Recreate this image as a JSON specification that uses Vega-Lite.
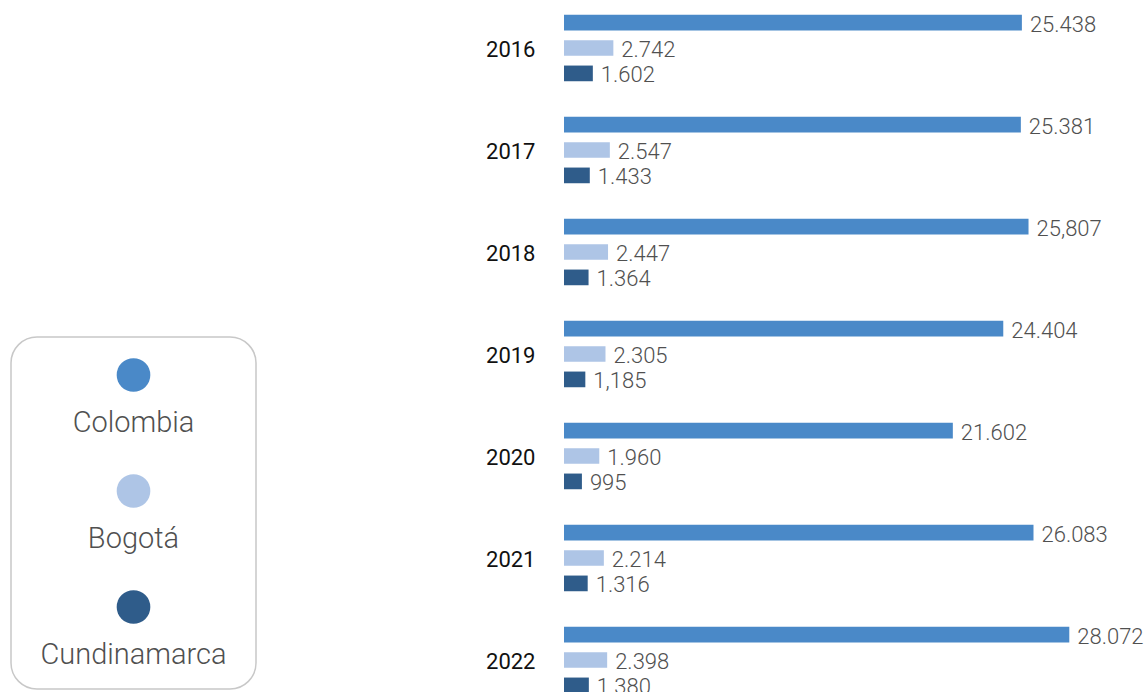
{
  "$schema": "https://vega.github.io/schema/vega-lite/v6.json",
  "padding": {"left": 10, "top": 0, "right": 0, "bottom": 0},
  "autosize": {"type": "pad"},
  "background": "white",
  "config": {"view": {"stroke": null}, "font": "Roboto"},
  "bounds": "flush",
  "spacing": 553,
  "resolve": {"scale": {"x": "independent", "y": "independent"}},
  "datasets": {
    "bars": [
      {"year": "2016", "series": "Colombia", "value": 25438, "label": "25.438"},
      {"year": "2016", "series": "Bogotá", "value": 2742, "label": "2.742"},
      {"year": "2016", "series": "Cundinamarca", "value": 1602, "label": "1.602"},
      {"year": "2017", "series": "Colombia", "value": 25381, "label": "25.381"},
      {"year": "2017", "series": "Bogotá", "value": 2547, "label": "2.547"},
      {"year": "2017", "series": "Cundinamarca", "value": 1433, "label": "1.433"},
      {"year": "2018", "series": "Colombia", "value": 25807, "label": "25,807"},
      {"year": "2018", "series": "Bogotá", "value": 2447, "label": "2.447"},
      {"year": "2018", "series": "Cundinamarca", "value": 1364, "label": "1.364"},
      {"year": "2019", "series": "Colombia", "value": 24404, "label": "24.404"},
      {"year": "2019", "series": "Bogotá", "value": 2305, "label": "2.305"},
      {"year": "2019", "series": "Cundinamarca", "value": 1185, "label": "1,185"},
      {"year": "2020", "series": "Colombia", "value": 21602, "label": "21.602"},
      {"year": "2020", "series": "Bogotá", "value": 1960, "label": "1.960"},
      {"year": "2020", "series": "Cundinamarca", "value": 995, "label": "995"},
      {"year": "2021", "series": "Colombia", "value": 26083, "label": "26.083"},
      {"year": "2021", "series": "Bogotá", "value": 2214, "label": "2.214"},
      {"year": "2021", "series": "Cundinamarca", "value": 1316, "label": "1.316"},
      {"year": "2022", "series": "Colombia", "value": 28072, "label": "28.072"},
      {"year": "2022", "series": "Bogotá", "value": 2398, "label": "2.398"},
      {"year": "2022", "series": "Cundinamarca", "value": 1380, "label": "1.380"}
    ],
    "series": [
      {"series": "Colombia"},
      {"series": "Bogotá"},
      {"series": "Cundinamarca"}
    ]
  },
  "hconcat": [
    {
      "vconcat": [
        {
          "width": 245,
          "height": 337,
          "data": {"name": "series"},
          "mark": {"type": "text", "text": ""},
          "encoding": {}
        },
        {
          "width": 245,
          "height": 352,
          "view": {"stroke": "#c8c8c8", "strokeWidth": 1.5, "cornerRadius": 26, "fill": "white"},
          "data": {"name": "series"},
          "encoding": {
            "y": {
              "field": "series",
              "type": "nominal",
              "sort": ["Colombia", "Bogotá", "Cundinamarca"],
              "scale": {"type": "point", "range": [38, 270], "padding": 0},
              "axis": null
            }
          },
          "layer": [
            {
              "mark": {"type": "circle", "size": 1134, "opacity": 1},
              "encoding": {
                "color": {
                  "field": "series",
                  "type": "nominal",
                  "scale": {"domain": ["Colombia", "Bogotá", "Cundinamarca"], "range": ["#4a89c8", "#aec5e6", "#2f5c8a"]},
                  "legend": null
                }
              }
            },
            {
              "mark": {"type": "text", "dy": 57, "baseline": "alphabetic", "align": "center", "fontSize": 29, "fontWeight": 300, "color": "#505050", "font": "Roboto"},
              "encoding": {"text": {"field": "series"}}
            }
          ]
        }
      ],
      "spacing": 0,
      "bounds": "flush",
      "resolve": {"scale": {"y": "independent"}}
    },
    {
      "width": 576,
      "height": 711,
      "data": {"name": "bars"},
      "encoding": {
        "y": {
          "field": "year",
          "type": "ordinal",
          "scale": {"range": [-3, 711], "paddingInner": 0, "paddingOuter": 0},
          "axis": {
            "title": null,
            "domain": false,
            "ticks": false,
            "labelPadding": 29,
            "labelOffset": 2,
            "labelFontSize": 22,
            "labelFont": "Roboto",
            "labelFontWeight": 400,
            "labelColor": "#111111"
          }
        },
        "yOffset": {
          "field": "series",
          "type": "nominal",
          "sort": ["Colombia", "Bogotá", "Cundinamarca"],
          "scale": {"paddingInner": 0.382, "paddingOuter": 0.699}
        },
        "x": {
          "field": "value",
          "type": "quantitative",
          "scale": {"domain": [0, 32000], "nice": false},
          "axis": null
        }
      },
      "layer": [
        {
          "mark": {"type": "bar"},
          "encoding": {
            "color": {
              "field": "series",
              "type": "nominal",
              "scale": {"domain": ["Colombia", "Bogotá", "Cundinamarca"], "range": ["#4a89c8", "#aec5e6", "#2f5c8a"]},
              "legend": null
            }
          }
        },
        {
          "mark": {"type": "text", "align": "left", "baseline": "middle", "dx": 8, "dy": 2, "fontSize": 22, "fontWeight": 300, "font": "Roboto", "color": "#505050"},
          "encoding": {"text": {"field": "label"}}
        }
      ]
    }
  ]
}
